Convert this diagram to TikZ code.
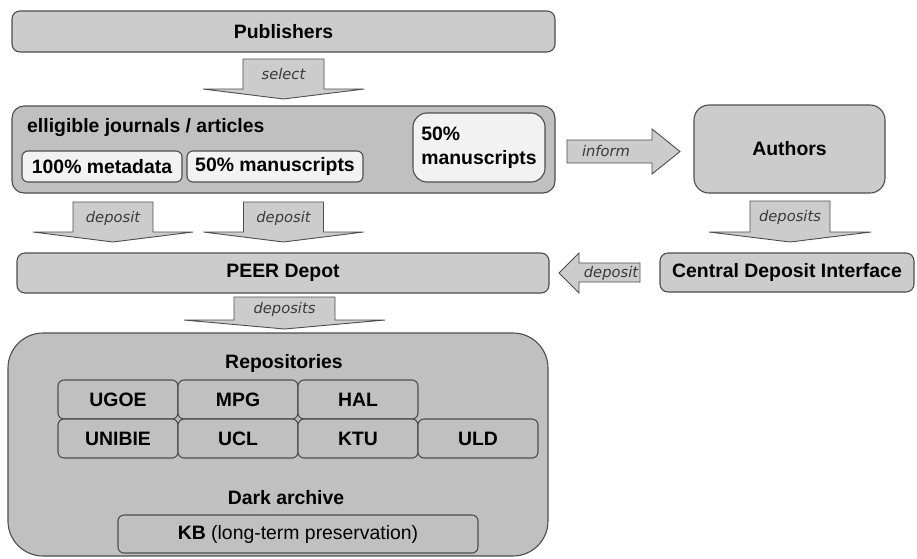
\documentclass[tikz,border=0pt]{standalone}
\usepackage{fontspec}
\setmainfont{Liberation Sans}
\newfontfamily\lblfont{DejaVu Sans}
\definecolor{edgec}{HTML}{4D4D4D}
\definecolor{boxA}{HTML}{CCCCCC}
\definecolor{boxB}{HTML}{C0C0C0}
\definecolor{boxW}{HTML}{F2F2F2}
\definecolor{lblc}{HTML}{3A3A3A}
\tikzset{
  box/.style={draw=edgec, line width=1.1pt, fill=boxA, rounded corners=8pt,
    font=\fontsize{19.4}{24}\selectfont\bfseries, inner sep=0pt, align=center},
  subbox/.style={box, fill=boxW, rounded corners=6pt},
  cell/.style={box, fill=boxB, rounded corners=6pt, minimum width=120pt},
  title/.style={font=\fontsize{19.4}{24}\selectfont\bfseries, inner sep=0pt},
  blk/.style={draw=edgec, line width=0.9pt, fill=boxA, line join=miter},
  lbl/.style={font=\lblfont\itshape\fontsize{14.7}{17}\selectfont, text=lblc,
    inner sep=0pt, text height=11pt, text depth=3pt},
}
% name, cx, top, headline, tip, shafthalf, headhalf, label
\newcommand\blkdown[8]{%
  \draw[blk] ({#2-#6},#3) -- ({#2+#6},#3) -- ({#2+#6},#4) -- ({#2+#7},#4)
    -- (#2,#5) -- ({#2-#7},#4) -- ({#2-#6},#4) -- cycle;
  \node[lbl] (#1) at (#2,{(#3+#4)/2+1}) {#8};}
\begin{document}
\begin{tikzpicture}[x=1pt,y=-1pt]
\useasboundingbox (0,0) rectangle (917,558);

% boxes
\node[box, minimum width=543pt, minimum height=41pt] (pub) at (283.5,31.5) {Publishers};

\node[box, fill=boxB, rounded corners=12pt, minimum width=543pt, minimum height=87pt] (elig) at (283.5,149.5) {};
\node[title, anchor=west] (eligt) at (27,128) {elligible journals / articles};
\node[subbox, minimum width=160pt, minimum height=31pt] (meta) at (102,166.5) {100\% metadata};
\node[subbox, minimum width=176pt, minimum height=31pt] (manA) at (275,166.5) {50\% manuscripts};
\node[subbox, rounded corners=14pt, minimum width=132pt, minimum height=69pt, align=left] (manB) at (479,147.5) {50\%\\manuscripts};

\node[box, rounded corners=15pt, minimum width=191pt, minimum height=88pt] (auth) at (789.5,149) {Authors};
\node[box, minimum width=254pt, minimum height=39pt] (cdi) at (787,272.5) {Central Deposit Interface};
\node[box, minimum width=532pt, minimum height=40pt] (peer) at (283,273) {PEER Depot};

\node[box, fill=boxB, rounded corners=35pt, minimum width=540pt, minimum height=223pt] (repo) at (278,444.5) {};
\node[title] (repot) at (284,363) {Repositories};
\node[cell, minimum height=39pt] (ugoe) at (118,399.5) {UGOE};
\node[cell, minimum height=39pt] (mpg) at (238,399.5) {MPG};
\node[cell, minimum height=39pt] (hal) at (358,399.5) {HAL};
\node[cell, minimum height=39pt] (unibie) at (118,438.5) {UNIBIE};
\node[cell, minimum height=39pt] (ucl) at (238,438.5) {UCL};
\node[cell, minimum height=39pt] (ktu) at (358,438.5) {KTU};
\node[cell, minimum height=39pt] (uld) at (478,438.5) {ULD};
\node[title] (dark) at (286,498) {Dark archive};
\node[cell, minimum width=360pt, minimum height=38pt, font=\fontsize{19.4}{24}\selectfont] (kb) at (298,534) {\textbf{KB} (long-term preservation)};

% block arrows
\blkdown{sel}{283.5}{59}{89}{99}{40.5}{80.5}{select}
\blkdown{depA}{113}{202}{232}{242}{40}{80}{deposit}
\blkdown{depB}{283.5}{202}{232}{242}{40}{80}{deposit}
\blkdown{depC}{284.5}{297}{320}{329}{50.5}{100.5}{deposits}
\blkdown{depD}{790}{201}{232}{242}{40}{81}{deposits}

% inform (right)
\draw[blk] (567,140) -- (652,140) -- (652,129) -- (680,151.5) -- (652,174) -- (652,163) -- (567,163) -- cycle;
\node[lbl] (inf) at (606,152.5) {inform};
% deposit (left)
\draw[blk] (640,263) -- (579,263) -- (579,253) -- (559,273) -- (579,293) -- (579,282) -- (640,282) -- cycle;
\node[lbl] (depE) at (611,273.5) {deposit};
\end{tikzpicture}
\end{document}
